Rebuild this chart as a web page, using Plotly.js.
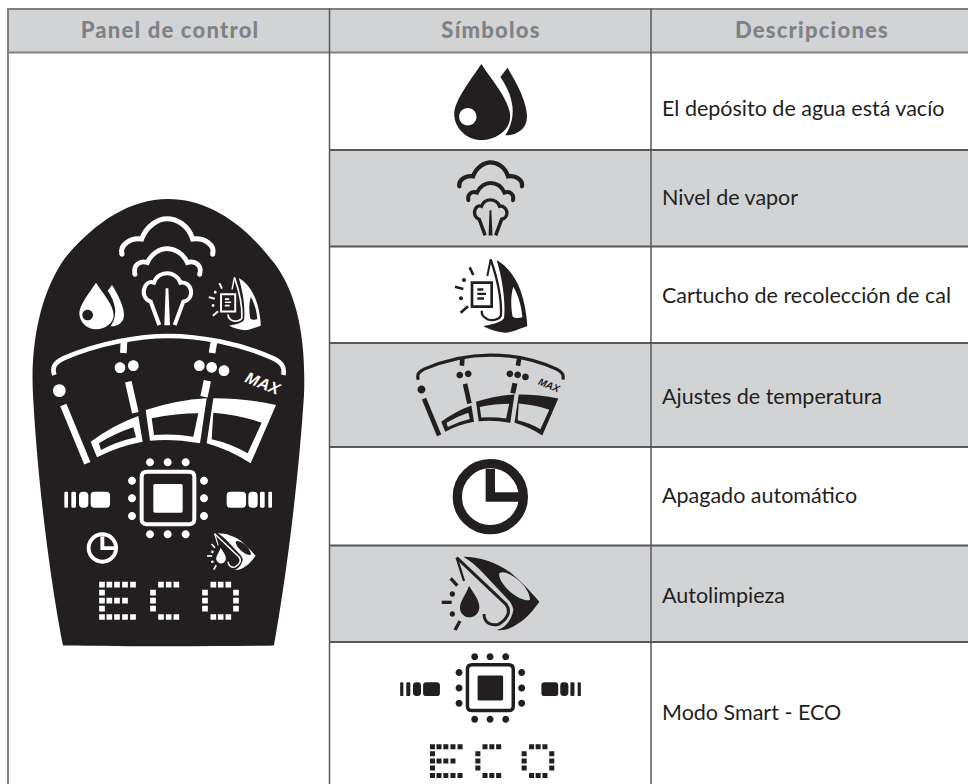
<!DOCTYPE html>
<html><head><meta charset="utf-8">
<script src="https://cdn.plot.ly/plotly-3.0.1.min.js"></script>
<style>html,body{margin:0;padding:0;background:#fff}#c{width:968px;height:784px}</style>
</head><body><div id="c"></div>
<script>
// ---- table content ----
const headers = ['Panel de control', 'Símbolos', 'Descripciones'];
const headerCenters = [170, 491, 812];
const descriptions = ['El depósito de agua está vacío','Nivel de vapor','Cartucho de recolección de cal','Ajustes de temperatura','Apagado automático','Autolimpieza','Modo Smart - ECO'];
const descY = [111, 200, 298, 399, 498, 598, 715];
const rowEdges = [52.5, 150, 246.5, 343, 447, 545.5, 642];
const shadedRows = [1, 3, 5];
const colEdges = [8, 329.5, 651];
const INK = '#231f20', SHADE = '#d1d3d4', RULE = '#808080', HEAD = '#808285', TXT = '#231f20';

// ---- icon geometry, each in its own drawing units ----
const circ = (x,y,r) => { const k=r*0.5523; return `M${x-r},${y} C${x-r},${y-k} ${x-k},${y-r} ${x},${y-r} C${x+k},${y-r} ${x+r},${y-k} ${x+r},${y} C${x+r},${y+k} ${x+k},${y+r} ${x},${y+r} C${x-k},${y+r} ${x-r},${y+k} ${x-r},${y} Z `; };
const rrect = (a,b,c,d,r) => `M${a+r},${b} L${c-r},${b} Q${c},${b} ${c},${b+r} L${c},${d-r} Q${c},${d} ${c-r},${d} L${a+r},${d} Q${a},${d} ${a},${d-r} L${a},${b+r} Q${a},${b} ${a+r},${b} Z `;
const dots = (list,r) => list.map(p=>circ(p[0],p[1],r)).join('');

const panelOutline = 'M63,645.5 C130,646.5 210,646.5 274,645.5 C284,590 298,490 304,395 C306,340 298,290 270,258 C240,220 205,199 168,199 C130,199 95,222 65,258 C42,290 30,340 33,395 C38,490 52,590 63,645.5 Z';

const dropIcon = [
 {d:'M288,338 C305,365 341,405 341,435 C341,460 314,478 288,478 C260,478 238,455 238,430 C238,405 270,365 288,338 Z '+circ(263,435,16)},
 {d:'M336,345 C355,375 372,410 372,435 C372,458 352,470 332,469 C345,450 347,430 345,415 C342,395 335,380 323,362 Z'}
];
const cloudIcon = [
 {w:15,d:'M366,253 C358,225 390,203 425,207 C440,165 478,146 500,146 C530,146 565,165 578,207 C615,203 646,225 638,253'},
 {d:dots([[366,253],[638,253],[405,313],[599,313]],7.5)},
 {w:14,d:'M405,313 C398,285 420,270 442,278 C455,250 480,236 500,236 C525,236 550,250 562,278 C585,270 607,285 599,313'},
 {w:12,d:'M478,465 L452,395 C435,390 425,370 435,350 C442,335 455,335 462,338 C470,315 490,310 502,310 C515,310 535,318 541,338 C555,335 570,345 573,362 C575,380 565,392 550,395 L524,465'},
 {d:'M493,466 L497,355 L505,355 L510,466 Z'}
];
const cartridgeIron = [
 {d:'M290,60 C340,90 375,150 382,258 C350,270 330,278 315,278 C290,275 265,268 250,258 C270,255 300,250 312,235 C318,180 305,110 290,60 Z M340,140 C355,165 365,200 367,232 C355,235 345,235 338,230 C332,200 332,165 340,140 Z'},
 {w:6,d:'M272,58 L262,108'},
 {w:7,d:'M272,58 C290,110 305,170 303,225 C300,240 270,245 258,235 C248,228 245,225 245,212'},
 {w:8,d:'M216,128 L275,128 L275,200 L216,200 Z'},
 {d:'M232,145 L250,145 L250,152 L232,152 Z M232,158 L258,158 L258,165 L232,165 Z M232,172 L252,172 L252,179 L232,179 Z '+dots([[192,120],[183,175]],6)},
 {w:8,d:'M209,82 L220,105'},{w:8,d:'M165,140 L190,147'},{w:8,d:'M182,218 L204,199'}
];
const gaugeTop = [
 {w:14,d:'M163,615 C155,590 165,578 190,565 C300,518 420,498 505,498 C600,498 720,520 820,565 C845,578 855,590 850,615'},
 {w:20,d:'M372,515 L370,549'},{w:20,d:'M642,515 L636,549'},
 {d:circ(178,662,19)+dots([[360,593],[400,587],[598,587],[635,592],[672,602]],16)},
 {w:20,d:'M190,705 L262,880'},
 {w:20,d:'M385,635 L406,728'},
 {w:22,d:'M622,632 L612,680'}
];
const gaugeLow = [
 {d:'M272,125 Q340,75 415,48 L428,125 Q350,140 291,172 Z M297,130 Q345,100 400,82 L408,112 Q350,125 303,150 Z'},
 {d:'M437,30 Q530,0 620,-5 L600,130 Q520,115 450,122 Z M455,55 Q530,40 595,40 L580,110 Q520,100 462,105 Z'},
 {d:'M640,-5 Q740,-5 828,15 L752,190 Q690,150 620,130 Z M640,38 Q720,45 785,68 L743,160 Q690,130 635,118 Z'}
];
const modeChip = [
 {w:12,d:rrect(425,215,583,373,16)},
 {d:rrect(460,252,548,338,5)},
 {d:dots([[450,187],[503,187],[557,187],[450,403],[503,403],[557,403],[396,242],[396,295],[396,348],[612,242],[612,295],[612,348]],12)},
 {d:rrect(193,275,204,323,3)+rrect(214,275,228,323,4)+rrect(237,275,265,323,12)+rrect(272,275,330,323,11)+rrect(680,275,738,323,11)+rrect(745,275,773,323,12)+rrect(780,275,794,323,4)+rrect(805,275,816,323,3)}
];
const ecoCells = [[306,554],[328,554],[351,554],[375,554],[399,554],[306,578],[306,602],[328,602],[351,602],[375,602],[306,626],[306,651],[328,651],[351,651],[375,651],[399,651],
 [483,554],[506,554],[529,554],[459,578],[459,602],[459,626],[483,651],[506,651],[529,651],
 [640,554],[662,554],[685,554],[615,578],[708,578],[615,602],[708,602],[615,626],[708,626],[640,651],[662,651],[685,651]];
const ecoIcon = [{d:ecoCells.map(c=>`M${c[0]-8.5},${c[1]-8.5} L${c[0]+8.5},${c[1]-8.5} L${c[0]+8.5},${c[1]+8.5} L${c[0]-8.5},${c[1]+8.5} Z `).join('')}];
const clockIcon = [
 {w:28,d:circ(211,170,99)},
 {d:'M197,87 L225,87 L225,157 L300,157 L300,185 L197,185 Z'}
];
const cleanIron = [
 {d:'M160,35 C210,35 270,55 310,90 C345,120 370,150 388,170 C370,195 345,225 325,235 C305,250 285,258 260,255 C285,250 305,225 310,195 C310,190 305,175 295,165 L220,85 C200,62 180,48 160,35 Z M268,85 C280,75 310,90 335,115 C350,130 360,150 360,165 C345,168 325,160 300,140 C280,120 265,100 268,85 Z'},
 {w:7,d:'M140,38 L162,108'},
 {w:9,d:'M140,38 L288,178 C305,200 290,225 265,238 C245,243 222,235 222,207'},
 {d:'M177,122 C190,145 210,165 208,190 C205,210 190,217 178,217 C160,217 148,200 150,185 C152,165 170,145 177,122 Z '+dots([[127,147],[127,207]],8)},
 {w:10,d:'M122,100 L142,122'},{w:10,d:'M95,172 L125,172'},{w:10,d:'M135,255 L150,228'}
];

// ---- placement: page = s*unit + t ----
const shapes = [];
const pt = /(-?[\d.]+),(-?[\d.]+)/g;
function place(icon, s, tx, ty, color, boost) {
  icon.forEach(it => {
    const path = it.d.replace(pt, (m,x,y)=>`${(+x*s+tx).toFixed(2)},${(+y*s+ty).toFixed(2)}`);
    const base = {type:'path', xref:'x', yref:'y', path, layer:'above'};
    if (it.w) shapes.push({...base, fillcolor:'rgba(0,0,0,0)', line:{color, width:it.w*s*(boost||1)}});
    else shapes.push({...base, fillcolor:color, fillrule:'evenodd', line:{width:0}});
  });
}
// table frame
rowEdges.forEach((y,i)=>{ if (shadedRows.includes(i)) shapes.push({type:'rect',xref:'x',yref:'y',x0:colEdges[1],x1:968,y0:y,y1:rowEdges[i+1],fillcolor:SHADE,line:{width:0},layer:'below'}); });
shapes.push({type:'rect',xref:'x',yref:'y',x0:colEdges[0],x1:968,y0:9,y1:rowEdges[0],fillcolor:SHADE,line:{width:0},layer:'below'});
const rule=(x0,y0,x1,y1,c,w)=>shapes.push({type:'line',xref:'x',yref:'y',x0,y0,x1,y1,line:{color:c,width:w},layer:'below'});
rule(8,9,968,9,RULE,2);
rule(8,rowEdges[0],968,rowEdges[0],RULE,2);
rowEdges.slice(1).forEach(y=>rule(colEdges[1],y,968,y,'#58595b',2));
rule(colEdges[0],8,colEdges[0],784,RULE,2);
rule(colEdges[1],8,colEdges[1],784,'#58595b',1.5);
rule(colEdges[2],8,colEdges[2],784,'#58595b',1.5);

// control panel (white on black)
shapes.push({type:'path',xref:'x',yref:'y',path:panelOutline,fillcolor:INK,line:{width:0},layer:'above'});
const W='#ffffff', u=1/3;
place(dropIcon,u,0,170,W);
place(cloudIcon,u,0,170,W);
place(cartridgeIron,0.24,169.2,263.5,W);
place(gaugeTop,u,0,170,W);
place(gaugeLow,u,0,400,W);
place(modeChip,u,0,400,W);
place(ecoIcon,u,0,400,W);
place(clockIcon,0.1387,73.1,524.4,W);
place(cleanIron,0.1655,191.4,527.5,W);

// symbols column (black)
place(dropIcon,0.543,325,-119.5,INK);
place(cloudIcon,0.2286,375.9,129,INK,1.25);
place(cartridgeIron,u,400,240,INK);
place(gaugeTop,0.2105,384,250.2,INK,1.1);
place(gaugeLow,0.2105,384,250.2+0.2105*690,INK);
place(clockIcon,u,420,440,INK);
place(cleanIron,u,410,545,INK);
place(modeChip,0.29,344.2,602.4,INK);
place(ecoIcon,0.2967,341.7,582.3,INK);

const textTrace = {type:'scatter',mode:'text',x:descY.map(()=>662),y:descY,text:descriptions,textposition:'middle right',
  textfont:{family:'Lato, sans-serif',size:21.5,color:TXT},hoverinfo:'skip',showlegend:false,cliponaxis:false};
const headTrace = {type:'scatter',mode:'text',x:headerCenters,y:headers.map(()=>32),text:headers,textposition:'middle center',
  textfont:{family:'Lato, sans-serif',size:22,color:HEAD,weight:900},hoverinfo:'skip',showlegend:false,cliponaxis:false};

const layout = {
  width:968,height:784,margin:{l:0,r:0,t:0,b:0},paper_bgcolor:'#fff',plot_bgcolor:'#fff',showlegend:false,
  xaxis:{range:[0,968],visible:false,fixedrange:true},
  yaxis:{range:[784,0],visible:false,fixedrange:true},
  shapes,
  annotations:[
    {x:263.5,y:383,xref:'x',yref:'y',text:'<b><i>MAX</i></b>',showarrow:false,textangle:22,font:{family:'Liberation Sans, sans-serif',size:16,color:W}},
    {x:550,y:385,xref:'x',yref:'y',text:'<b><i>MAX</i></b>',showarrow:false,textangle:22,font:{family:'Liberation Sans, sans-serif',size:10,color:INK}}
  ]
};
Plotly.newPlot('c',[textTrace,headTrace],layout,{displayModeBar:false,staticPlot:true}).then(()=>{
  const groups = document.querySelectorAll('.scatterlayer .trace');
  if (groups[1]) groups[1].querySelectorAll('text').forEach(t=>{ t.style.letterSpacing='1.2px'; });
});
</script></body></html>
